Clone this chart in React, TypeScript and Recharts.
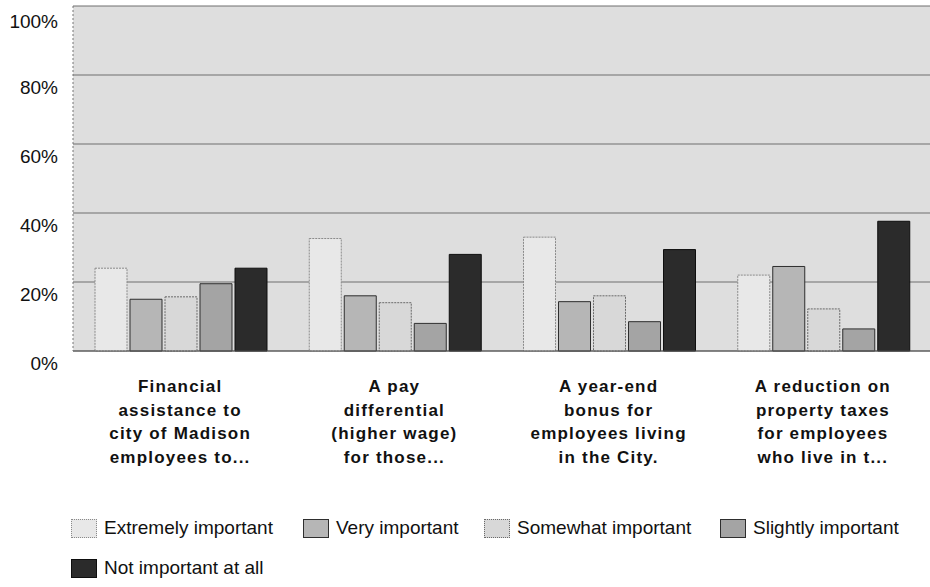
import { BarChart, Bar, XAxis, YAxis, CartesianGrid, Legend } from 'recharts'

const categories = [
  'Financial|assistance to|city of Madison|employees to...',
  'A pay|differential|(higher wage)|for those...',
  'A year-end|bonus for|employees living|in the City.',
  'A reduction on|property taxes|for employees|who live in t...',
]

const extremely = [24, 32.6, 33, 22]
const very = [15, 16, 14.3, 24.5]
const somewhat = [15.7, 14, 16, 12.2]
const slightly = [19.5, 8, 8.5, 6.4]
const notAtAll = [24, 28, 29.4, 37.6]

const yTicks = [0, 20, 40, 60, 80, 100]

const series = [
  { key: 'extremely', name: 'Extremely important', fill: '#e8e8e8', stroke: '#8a8a8a', dash: '2 1' },
  { key: 'very', name: 'Very important', fill: '#b6b6b6', stroke: '#2e2e2e', dash: undefined },
  { key: 'somewhat', name: 'Somewhat important', fill: '#d8d8d8', stroke: '#6a6a6a', dash: '2 1' },
  { key: 'slightly', name: 'Slightly important', fill: '#a4a4a4', stroke: '#2e2e2e', dash: undefined },
  { key: 'notAtAll', name: 'Not important at all', fill: '#2b2b2b', stroke: '#0e0e0e', dash: undefined },
]

const data = categories.map((c, i) => ({
  category: c,
  extremely: extremely[i],
  very: very[i],
  somewhat: somewhat[i],
  slightly: slightly[i],
  notAtAll: notAtAll[i],
}))

const font = 'Arial, "Liberation Sans", Helvetica, sans-serif'

function CategoryTick({ x, y, payload }: any) {
  const lines = String(payload.value).split('|')
  return (
    <text
      x={x}
      y={y + 41}
      textAnchor="middle"
      fontFamily={font}
      fontSize={17}
      fontWeight={700}
      letterSpacing={1.2}
      fill="#111"
    >
      {lines.map((l, i) => (
        <tspan key={i} x={x} dy={i === 0 ? 0 : 23.5}>
          {l}
        </tspan>
      ))}
    </text>
  )
}

function PercentTick({ y, payload }: any) {
  return (
    <text x={58} y={y + 19} textAnchor="end" fontFamily={font} fontSize={19} fill="#111">
      {payload.value}%
    </text>
  )
}

// legend key positions as laid out in the original
const legendLeft = [71, 303, 484, 720, 71]
const legendTop = [0, 0, 0, 0, 40]

function LegendContent() {
  return (
    <div style={{ position: 'relative', width: 930, height: 64, fontFamily: font, fontSize: 19, color: '#111' }}>
      {series.map((s, i) => (
        <div
          key={s.key}
          style={{
            position: 'absolute',
            left: legendLeft[i],
            top: legendTop[i],
            height: 24,
            display: 'flex',
            alignItems: 'center',
            whiteSpace: 'nowrap',
          }}
        >
          <span
            style={{
              display: 'inline-block',
              boxSizing: 'border-box',
              width: 26,
              height: 19,
              background: s.fill,
              border: `1px ${s.dash ? 'dotted' : 'solid'} ${s.stroke}`,
              marginRight: 7,
            }}
          />
          {s.name}
        </div>
      ))}
    </div>
  )
}

export default function App() {
  return (
    <div style={{ position: 'absolute', left: 0, top: 0, width: 930, height: 587, background: '#fff' }}>
      <BarChart
        width={930}
        height={587}
        data={data}
        margin={{ top: 6, right: 0, bottom: 0, left: 0 }}
        barCategoryGap={22}
        barGap={3}
      >
        <CartesianGrid vertical={false} fill="#dedede" stroke="#6e6e6e" />
        <XAxis
          dataKey="category"
          height={236}
          tickLine={false}
          tickSize={0}
          tickMargin={0}
          interval={0}
          tick={<CategoryTick />}
          axisLine={{ stroke: '#555' }}
        />
        <YAxis
          width={73}
          domain={[0, 100]}
          ticks={yTicks}
          tickLine={false}
          tick={<PercentTick />}
          axisLine={{ stroke: '#777', strokeDasharray: '2 2' }}
        />
        <Legend
          layout="horizontal"
          verticalAlign="middle"
          align="center"
          content={<LegendContent />}
          wrapperStyle={{ top: 516, left: 0, width: 930 }}
        />
        {series.map((s) => (
          <Bar
            key={s.key}
            dataKey={s.key}
            name={s.name}
            fill={s.fill}
            stroke={s.stroke}
            strokeDasharray={s.dash}
            isAnimationActive={false}
          />
        ))}
      </BarChart>
    </div>
  )
}
